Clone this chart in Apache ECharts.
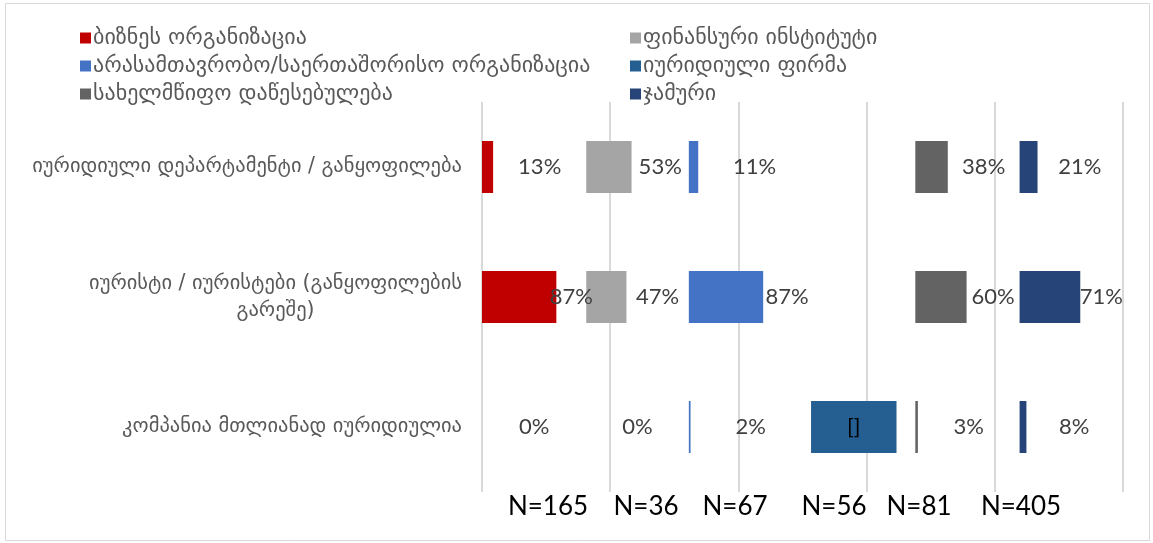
<!DOCTYPE html>
<html>
<head>
<meta charset="utf-8">
<script src="https://cdn.jsdelivr.net/npm/echarts@6/dist/echarts.min.js"></script>
<style>
  html, body { margin: 0; padding: 0; background: #fff; }
  #chart { width: 1153px; height: 543px; }
</style>
</head>
<body>
<div id="chart"></div>
<script>
// Row categories (top to bottom)
const categories = [
  'იურიდიული დეპარტამენტი / განყოფილება',
  'იურისტი / იურისტები (განყოფილების გარეშე)',
  'კომპანია მთლიანად იურიდიულია'
];

// Organisation groups, one panel each
const groupNames = [
  'ბიზნეს ორგანიზაცია',
  'ფინანსური ინსტიტუტი',
  'არასამთავრობო/საერთაშორისო ორგანიზაცია',
  'იურიდიული ფირმა',
  'სახელმწიფო დაწესებულება',
  'ჯამური'
];

// Shares per row, one array per group
const business  = [0.13, 0.87, 0.00];
const financial = [0.53, 0.47, 0.00];
const nonGov    = [0.11, 0.87, 0.02];
const lawFirm   = [0.00, 0.00, 1.00];
const stateInst = [0.38, 0.60, 0.03];
const overall   = [0.21, 0.71, 0.08];

// Text shown on the law-firm bars
const lawFirmLabels = ['', '', '[]'];

// Respondents per group
const sampleSizes = [165, 36, 67, 56, 81, 405];

const groupValues = [business, financial, nonGov, lawFirm, stateInst, overall];
const groupColors = ['#C00000', '#A5A5A5', '#4472C4', '#255E91', '#636363', '#264478'];

// Width of each panel on the shared value axis; a transparent helper bar fills the rest
const panelSpan = [1.22, 1.20, 1.43, 1.22, 1.22, 1.20];

const GEO_FONT = '"DejaVu Sans", sans-serif';
const NUM_FONT = 'Lato, "Open Sans", sans-serif';
const AXIS_SIZE = 20.5;
const VALUE_SIZE = 22;

// Wrap long row titles, centring the wrapped lines like a text box
const measureCtx = document.createElement('canvas').getContext('2d');
measureCtx.font = AXIS_SIZE + 'px ' + GEO_FONT;
function wrapText(text, maxW) {
  const words = text.split(' ');
  const lines = [];
  let cur = '';
  words.forEach(w => {
    const test = cur ? cur + ' ' + w : w;
    if (cur && measureCtx.measureText(test).width > maxW) {
      lines.push(cur);
      cur = w;
    } else {
      cur = test;
    }
  });
  lines.push(cur);
  return lines;
}
const WRAP_W = measureCtx.measureText(categories[0]).width + 8;
let wrapBoxW = 0;
const wrapped = {};
categories.forEach(c => {
  const lines = wrapText(c, WRAP_W);
  if (lines.length > 1) {
    wrapped[c] = lines;
    lines.forEach(l => { wrapBoxW = Math.max(wrapBoxW, measureCtx.measureText(l).width); });
  }
});

const pct = v => Math.round(v * 100) + '%';

const series = [];
groupValues.forEach((vals, i) => {
  const isLawFirm = i === 3;
  series.push({
    name: groupNames[i],
    type: 'bar',
    stack: 'panels',
    barWidth: 52,
    data: vals,
    itemStyle: { color: groupColors[i] },
    label: isLawFirm ? {
      show: true,
      position: 'inside',
      color: '#000000',
      fontSize: VALUE_SIZE,
      fontFamily: NUM_FONT,
      formatter: p => lawFirmLabels[p.dataIndex]
    } : { show: false }
  });
  series.push({
    name: 'gap-' + i,
    type: 'bar',
    stack: 'panels',
    barWidth: 52,
    silent: true,
    data: vals.map(v => +(panelSpan[i] - v).toFixed(4)),
    itemStyle: { color: 'rgba(0,0,0,0)' },
    label: {
      show: !isLawFirm,
      position: 'inside',
      color: '#404040',
      fontSize: VALUE_SIZE,
      fontFamily: NUM_FONT,
      formatter: p => pct(vals[p.dataIndex])
    }
  });
});

// Sample-size captions under the panels
const nCenters = [548, 646, 735, 834, 919, 1021];
const nTexts = sampleSizes.map((n, i) => ({
  type: 'text',
  x: nCenters[i],
  y: 507,
  style: {
    text: 'N=' + n,
    fill: '#000000',
    font: '26px ' + NUM_FONT,
    textAlign: 'center',
    textVerticalAlign: 'middle'
  }
}));

const legendCommon = {
  orient: 'vertical',
  icon: 'rect',
  itemWidth: 11,
  itemHeight: 11,
  itemGap: 6,
  selectedMode: false,
  textStyle: { fontSize: 22, color: '#595959', fontFamily: GEO_FONT, padding: [0, 0, 0, -3] }
};

const chart = echarts.init(document.getElementById('chart'), null, { renderer: 'canvas' });
chart.setOption({
  animation: false,
  backgroundColor: '#ffffff',
  legend: [
    Object.assign({}, legendCommon, { left: 75, top: 22, data: [groupNames[0], groupNames[2], groupNames[4]] }),
    Object.assign({}, legendCommon, { left: 625, top: 22, data: [groupNames[1], groupNames[3], groupNames[5]] })
  ],
  grid: { left: 482, right: 30, top: 102, bottom: 51, outerBoundsMode: 'none' },
  xAxis: {
    type: 'value',
    min: 0,
    max: 7.5,
    interval: 1.5,
    axisLabel: { show: false },
    axisLine: { show: false },
    axisTick: { show: false },
    splitLine: { show: true, lineStyle: { color: '#D9D9D9', width: 2 } }
  },
  yAxis: {
    type: 'category',
    inverse: true,
    data: categories,
    axisLine: { show: false },
    axisTick: { show: false },
    axisLabel: {
      margin: 20,
      color: '#595959',
      fontSize: AXIS_SIZE,
      fontFamily: GEO_FONT,
      lineHeight: 27,
      formatter: v => wrapped[v] ? wrapped[v].map(l => '{c|' + l + '}').join('\n') : v,
      rich: {
        c: { width: wrapBoxW, align: 'center', fontSize: AXIS_SIZE, fontFamily: GEO_FONT, color: '#595959', lineHeight: 27 }
      }
    }
  },
  series: series,
  graphic: [
    {
      type: 'rect',
      shape: { x: 5.5, y: 3.5, width: 1144, height: 537 },
      style: { fill: 'none', stroke: '#D9D9D9', lineWidth: 1 },
      silent: true
    }
  ].concat(nTexts)
});
</script>
</body>
</html>
